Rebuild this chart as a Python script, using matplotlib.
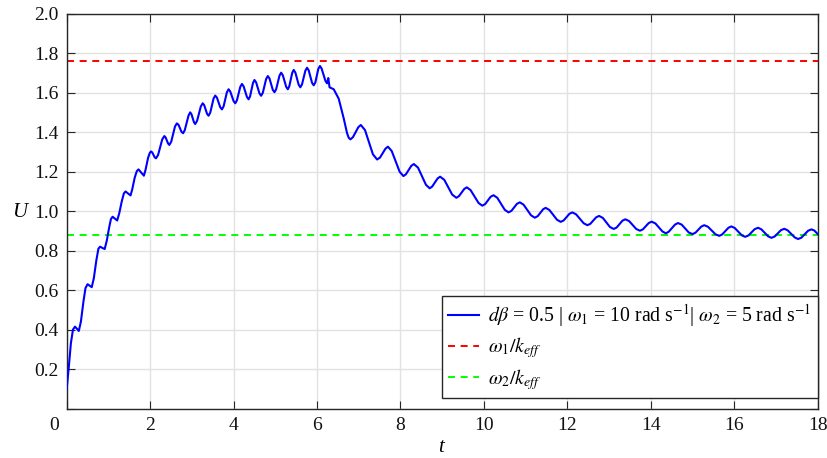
import matplotlib
matplotlib.use("Agg")
import matplotlib.pyplot as plt
import matplotlib.transforms as mtransforms

plt.rcParams['font.family'] = ['Liberation Serif', 'DejaVu Serif']
plt.rcParams['mathtext.fontset'] = 'stix'

# ---- data ----
t_rise = [0.00, 0.05, 0.10, 0.15, 0.20, 0.29, 0.34, 0.40, 0.45, 0.50, 0.60, 0.65,
          0.71, 0.76, 0.80, 0.91, 0.96, 1.02, 1.06, 1.10, 1.21, 1.26, 1.32, 1.37,
          1.41, 1.53, 1.57, 1.63, 1.68, 1.72, 1.85, 1.89, 1.95, 1.99]
u_rise = [0.100, 0.21, 0.33, 0.40, 0.415, 0.393, 0.44, 0.54, 0.61, 0.630, 0.615, 0.66,
          0.75, 0.81, 0.820, 0.808, 0.85, 0.92, 0.960, 0.972, 0.953, 0.99, 1.05, 1.09,
          1.100, 1.080, 1.11, 1.17, 1.203, 1.212, 1.180, 1.21, 1.27, 1.295]

t_plateau = [2.02, 2.05, 2.11, 2.14, 2.19, 2.29, 2.34, 2.37, 2.43, 2.46, 2.505, 2.595,
             2.64, 2.68, 2.75, 2.79, 2.83, 2.92, 2.96, 2.99, 3.05, 3.08, 3.125, 3.215,
             3.26, 3.295, 3.365, 3.40, 3.44, 3.52, 3.56, 3.60, 3.68, 3.72, 3.76, 3.84,
             3.88, 3.92, 4.00, 4.04, 4.08, 4.16, 4.20, 4.24, 4.32, 4.36, 4.395, 4.465,
             4.50, 4.54, 4.62, 4.66, 4.70, 4.78, 4.82, 4.86, 4.94, 4.98, 5.02, 5.10,
             5.14, 5.18, 5.26, 5.30, 5.335, 5.405, 5.44, 5.48, 5.56, 5.60, 5.64, 5.72,
             5.76, 5.80, 5.88, 5.92, 5.96, 6.03, 6.07, 6.11, 6.20, 6.24, 6.27, 6.30,
             6.40, 6.52, 6.64, 6.72, 6.76]
u_plateau = [1.303, 1.298, 1.273, 1.268, 1.285, 1.364, 1.381, 1.374, 1.343, 1.336, 1.352, 1.429,
             1.445, 1.438, 1.403, 1.395, 1.411, 1.485, 1.501, 1.492, 1.451, 1.442, 1.458, 1.531,
             1.547, 1.538, 1.493, 1.484, 1.499, 1.571, 1.586, 1.576, 1.527, 1.516, 1.531, 1.603,
             1.618, 1.607, 1.558, 1.547, 1.562, 1.630, 1.645, 1.633, 1.579, 1.567, 1.582, 1.650,
             1.665, 1.653, 1.597, 1.585, 1.600, 1.670, 1.685, 1.673, 1.615, 1.603, 1.618, 1.687,
             1.702, 1.689, 1.631, 1.618, 1.633, 1.701, 1.716, 1.703, 1.641, 1.628, 1.643, 1.712,
             1.727, 1.714, 1.651, 1.638, 1.653, 1.721, 1.736, 1.723, 1.661, 1.648, 1.675, 1.628,
             1.618, 1.570, 1.470, 1.395, 1.372]

t_decay = [6.80, 6.86, 6.99, 7.05, 7.15, 7.34, 7.44, 7.51, 7.64, 7.70, 7.79, 7.98,
           8.07, 8.13, 8.26, 8.32, 8.42, 8.61, 8.70, 8.76, 8.89, 8.95, 9.05, 9.24,
           9.34, 9.40, 9.53, 9.59, 9.68, 9.87, 9.96, 10.03, 10.16, 10.23, 10.32, 10.50,
           10.59, 10.66, 10.79, 10.86, 10.95, 11.13, 11.22, 11.29, 11.42, 11.48, 11.57, 11.75,
           11.84, 11.91, 12.05, 12.12, 12.21, 12.39, 12.48, 12.55, 12.69, 12.76, 12.85, 13.02,
           13.11, 13.18, 13.32, 13.39, 13.48, 13.65, 13.74, 13.81, 13.95, 14.02, 14.11, 14.28,
           14.36, 14.43, 14.58, 14.65, 14.74, 14.91, 15.00, 15.07, 15.21, 15.28, 15.37, 15.55,
           15.64, 15.71, 15.86, 15.93, 16.01, 16.18, 16.26, 16.34, 16.49, 16.57, 16.65, 16.81,
           16.89, 16.97, 17.12, 17.20, 17.28, 17.45, 17.53, 17.61, 17.77, 17.85, 17.92, 18.00]
u_decay = [1.364, 1.375, 1.426, 1.437, 1.411, 1.288, 1.262, 1.272, 1.317, 1.327, 1.305, 1.200,
           1.178, 1.187, 1.230, 1.239, 1.221, 1.134, 1.116, 1.125, 1.166, 1.175, 1.159, 1.084,
           1.068, 1.076, 1.113, 1.121, 1.107, 1.042, 1.028, 1.036, 1.073, 1.081, 1.068, 1.007,
           0.994, 1.002, 1.037, 1.045, 1.033, 0.979, 0.967, 0.975, 1.010, 1.017, 1.006, 0.957,
           0.946, 0.953, 0.987, 0.994, 0.984, 0.939, 0.929, 0.936, 0.969, 0.976, 0.966, 0.920,
           0.910, 0.917, 0.952, 0.959, 0.950, 0.910, 0.901, 0.908, 0.940, 0.947, 0.938, 0.897,
           0.888, 0.896, 0.932, 0.940, 0.932, 0.892, 0.884, 0.891, 0.922, 0.929, 0.921, 0.883,
           0.875, 0.882, 0.916, 0.923, 0.915, 0.878, 0.870, 0.877, 0.909, 0.916, 0.908, 0.873,
           0.865, 0.872, 0.904, 0.911, 0.903, 0.867, 0.859, 0.866, 0.901, 0.908, 0.902, 0.884]

omega1_over_keff = 1.76
omega2_over_keff = 0.88

x_ticks = [0, 2, 4, 6, 8, 10, 12, 14, 16, 18]
y_ticks = [0.0, 0.2, 0.4, 0.6, 0.8, 1.0, 1.2, 1.4, 1.6, 1.8, 2.0]
y_tick_labels = ['', '0.2', '0.4', '0.6', '0.8', '1.0', '1.2', '1.4', '1.6', '1.8', '2.0']

label_main = r'$d\beta$ = 0.5 | $\omega_1$ = 10 rad s$^{-1}$| $\omega_2$ = 5 rad s$^{-1}$'
label_red = r'$\omega_1/k_{eff}$'
label_green = r'$\omega_2/k_{eff}$'

# ---- figure ----
W, H = 827, 458
fig = plt.figure(figsize=(W / 100, H / 100), dpi=100)
ax_l, ax_r, ax_t, ax_b = 66.7, 817.7, 13.9, 408.5
ax = fig.add_axes([ax_l / W, 1 - ax_b / H, (ax_r - ax_l) / W, (ax_b - ax_t) / H])

t_all = t_rise + t_plateau + t_decay
u_all = u_rise + u_plateau + u_decay

ax.plot(t_all, u_all, color=(0, 0, 1), lw=1.5, solid_joinstyle='round', label=label_main, zorder=3)
ax.axhline(omega1_over_keff, color=(1, 0, 0), lw=1.4, dashes=(3.6, 2.9), label=label_red, zorder=2)
ax.axhline(omega2_over_keff, color=(0, 1, 0), lw=1.4, dashes=(3.6, 2.9), label=label_green, zorder=2)

ax.set_xlim(0, 18)
ax.set_ylim(0, 2.0)
ax.set_xticks(x_ticks)
ax.set_xticklabels([str(v) for v in x_ticks])
ax.set_yticks(y_ticks)
ax.set_yticklabels(y_tick_labels)

ax.grid(True, color='#e2e2e2', lw=1.0, zorder=0)
ax.set_axisbelow(True)
for s in ax.spines.values():
    s.set_color('#262626')
    s.set_linewidth(1.0)
ax.tick_params(direction='in', length=6, width=0.8, color='#262626',
               top=True, right=True, labelsize=14, pad=6, labelcolor='#111111')

# shift the "0" x tick label to the left as in the reference
xl = ax.get_xticklabels()
off = mtransforms.ScaledTranslation(-13 / 100, 0, fig.dpi_scale_trans)
xl[0].set_transform(xl[0].get_transform() + off)

ax.set_ylabel('U', fontsize=15, fontstyle='italic', rotation=0, va='center', ha='center')
ax.yaxis.set_label_coords((20 - ax_l) / (ax_r - ax_l), (ax_b - 212) / (ax_b - ax_t))
ax.set_xlabel('t', fontsize=15, fontstyle='italic', va='center', ha='center')
ax.xaxis.set_label_coords((441 - ax_l) / (ax_r - ax_l), (ax_b - 447) / (ax_b - ax_t))

leg = ax.legend(loc='lower right', bbox_to_anchor=(1.0, (ax_b - 398) / (ax_b - ax_t)),
                borderaxespad=0, fontsize=14.2, frameon=True, fancybox=False,
                handlelength=1.6, handletextpad=0.45, borderpad=0.32, labelspacing=0.32)
fr = leg.get_frame()
fr.set_edgecolor('#262626')
fr.set_linewidth(1.0)
fr.set_alpha(1)

fig.savefig('out.png', dpi=100)
